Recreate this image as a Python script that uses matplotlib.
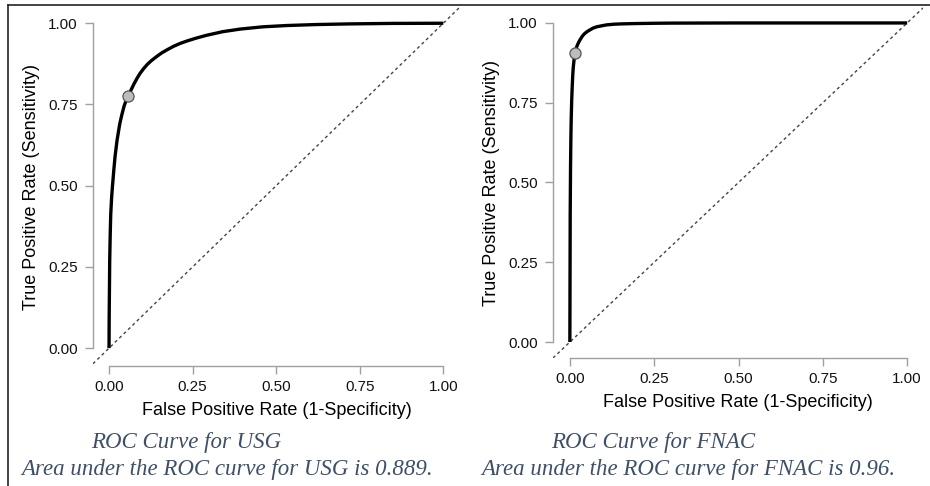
import matplotlib
matplotlib.use("Agg")
import matplotlib.pyplot as plt
from matplotlib.lines import Line2D
import numpy as np

plt.rcParams.update({
    "font.family": "Liberation Sans",
})

## ----- data ----- ##

# USG
fpr_usg = [0, 0.0003, 0.001, 0.002, 0.0035, 0.005, 0.0075, 0.010, 0.014, 0.018,
           0.024, 0.032, 0.038, 0.045, 0.051, 0.058, 0.066, 0.075, 0.084, 0.093,
           0.104, 0.115, 0.128, 0.143, 0.158, 0.175, 0.193, 0.213, 0.235, 0.26,
           0.292, 0.34, 0.392, 0.46, 0.532, 0.62, 0.72, 0.85, 1.0]
tpr_usg = [0, 0.08, 0.16, 0.27, 0.35, 0.41, 0.46, 0.495, 0.545, 0.59,
           0.64, 0.69, 0.717, 0.745, 0.762, 0.776, 0.795, 0.814, 0.831, 0.846,
           0.861, 0.874, 0.886, 0.898, 0.909, 0.919, 0.929, 0.938, 0.946, 0.954,
           0.963, 0.974, 0.982, 0.989, 0.993, 0.996, 0.998, 0.9995, 1.0]
cut_usg = (0.058, 0.776)

# FNAC
fpr_fnac = [0, 0.0005, 0.001, 0.002, 0.003, 0.004, 0.0055, 0.007, 0.0085, 0.010,
            0.0125, 0.015, 0.018, 0.022, 0.026, 0.030, 0.036, 0.042, 0.050, 0.059,
            0.069, 0.080, 0.094, 0.109, 0.13, 0.15, 0.19, 0.25, 0.3, 0.5, 0.75, 1.0]
tpr_fnac = [0, 0.2, 0.4, 0.55, 0.64, 0.70, 0.76, 0.80, 0.835, 0.86,
            0.885, 0.905, 0.918, 0.93, 0.939, 0.947, 0.957, 0.965, 0.972, 0.978,
            0.984, 0.988, 0.991, 0.994, 0.996, 0.997, 0.998, 0.999, 0.9995, 1.0, 1.0, 1.0]
cut_fnac = (0.015, 0.905)

ticks = [0, 0.25, 0.5, 0.75, 1.0]
tick_labels = ["0.00", "0.25", "0.50", "0.75", "1.00"]

captions = [
    ("ROC Curve for USG", "Area under the ROC curve for USG is 0.889."),
    ("ROC Curve for FNAC", "Area under the ROC curve for FNAC is 0.96."),
]

## ----- style ----- ##
W, H = 930, 486
fs_tick = 11
fs_lab = 13
fs_cap = 16.5
cap_col = "#3e4f68"
spine_col = "#a0a0a0"

fig = plt.figure(figsize=(W / 100, H / 100), dpi=100)
fig.patch.set_facecolor("white")


def px(l, t, r, b):
    return [l / W, 1 - b / H, (r - l) / W, (b - t) / H]


ax1 = fig.add_axes(px(93, 7, 460, 366))
ax2 = fig.add_axes(px(553, 7, 923, 358))

data = [(ax1, fpr_usg, tpr_usg, cut_usg, (-0.048, 1.05), (-0.055, 1.05)),
        (ax2, fpr_fnac, tpr_fnac, cut_fnac, (-0.05, 1.047), (-0.05, 1.05))]

for ax, fx, ty, cut, xl, yl in data:
    ax.axline((0, 0), (1, 1), color="#444444", lw=1.0, ls=(0, (2.2, 2.2)), zorder=1)
    ax.plot(fx, ty, color="black", lw=2.4, solid_joinstyle="round",
            solid_capstyle="butt", zorder=2)
    ax.plot(*cut, "o", ms=8, mfc="#bdbdbd", mec="#555555", mew=0.9, zorder=3)

    ax.set_xlim(*xl)
    ax.set_ylim(*yl)
    ax.set_xticks(ticks, tick_labels)
    ax.set_yticks(ticks, tick_labels)
    ax.tick_params(axis="both", labelsize=fs_tick, length=6, width=1,
                   color=spine_col, labelcolor="#111111")
    ax.tick_params(axis="x", pad=4)
    ax.tick_params(axis="y", pad=5)

    for s in ["top", "right"]:
        ax.spines[s].set_visible(False)
    for s in ["left", "bottom"]:
        ax.spines[s].set_bounds(0, 1)
        ax.spines[s].set_color(spine_col)
        ax.spines[s].set_linewidth(1)

    ax.set_xlabel("False Positive Rate (1-Specificity)", fontsize=fs_lab, labelpad=6)
    ax.set_ylabel("True Positive Rate (Sensitivity)", fontsize=fs_lab, labelpad=6)
    ax.patch.set_alpha(0)

# captions
cap_x = [(186, 227), (653, 688)]
for (l1, l2), (x1, x2) in zip(captions, cap_x):
    fig.text(x1 / W, 1 - 442 / H, l1, ha="center", va="center", fontsize=fs_cap,
             family="Liberation Serif", style="italic", color=cap_col)
    fig.text(x2 / W, 1 - 469 / H, l2, ha="center", va="center", fontsize=fs_cap,
             family="Liberation Serif", style="italic", color=cap_col)

# frame around the figure (top and left edges)
fig.add_artist(Line2D([8 / W, 1], [1 - 5 / H, 1 - 5 / H], color="#222222", lw=1.2))
fig.add_artist(Line2D([8 / W, 8 / W], [0, 1 - 5 / H], color="#222222", lw=1.2))

fig.savefig("out.png", dpi=100)
